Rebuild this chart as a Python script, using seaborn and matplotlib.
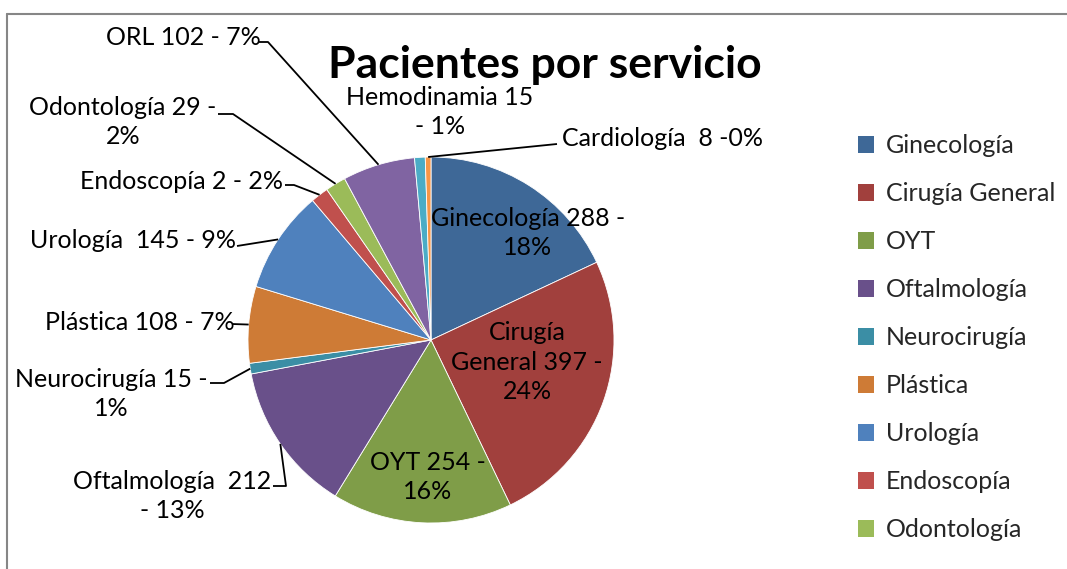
import matplotlib
matplotlib.use("Agg")
import matplotlib.pyplot as plt
import seaborn as sns
from matplotlib.lines import Line2D
from matplotlib.patches import Patch
import numpy as np

# ---------------- data ----------------
categories = ["Ginecología", "Cirugía General", "OYT", "Oftalmología", "Neurocirugía",
              "Plástica", "Urología", "Endoscopía", "Odontología", "ORL",
              "Hemodinamia", "Cardiología"]
values = [288, 397, 254, 212, 15, 108, 145, 25, 29, 102, 15, 8]
label_texts = ["Ginecología 288 -\n18%", "Cirugía\nGeneral 397 -\n24%", "OYT 254 -\n16%",
               "Oftalmología  212\n- 13%", "Neurocirugía 15 -\n1%", "Plástica 108 - 7%",
               "Urología  145 - 9%", "Endoscopía 2 - 2%", "Odontología 29 -\n2%",
               "ORL 102 - 7%", "Hemodinamia 15\n- 1%", "Cardiología  8 -0%"]
legend_count = 9
colors = ["#3E6897", "#A1403D", "#7F9D48", "#69508A", "#3B8EA5", "#CE7B36",
          "#4F81BD", "#C0504D", "#9BBB59", "#8064A2", "#4BACC6", "#F79646"]
title = "Pacientes por servicio"

# ---------------- figure ----------------
sns.set_theme(style="white")
plt.rcParams["font.family"] = ["Lato", "DejaVu Sans"]

W, H = 1067, 569
fig = plt.figure(figsize=(W / 100, H / 100), dpi=100)
ax = fig.add_axes([0, 0, 1, 1])

cx, cy, R = 431, 340, 183  # pixel layout (y measured from top)
wedges, _ = ax.pie(values, colors=colors, startangle=90, counterclock=False,
                   center=(cx, H - cy), radius=R,
                   wedgeprops=dict(edgecolor="white", linewidth=0.6))
ax.set_xlim(0, W)
ax.set_ylim(0, H)
ax.set_aspect("equal")
ax.axis("off")

FS = 18

def edge_point(w):
    ang = np.deg2rad((w.theta1 + w.theta2) / 2)
    return cx + R * np.cos(ang), (H - cy) + R * np.sin(ang)

# layout for labels: (text x, text y, ha, [leader points before wedge edge]) in top-down pixels
layout = {
    0: (528, 233, "center", None),
    1: (527, 362, "center", None),
    2: (428, 477, "center", None),
    3: (172, 496, "center", [(273, 486), (286, 486)]),
    4: (111, 394, "center", [(210, 383), (224, 383)]),
    5: (140, 323, "center", [(232, 324)]),
    6: (133, 240, "center", [(237, 246)]),
    7: (182, 181, "center", [(285, 185), (294, 185)]),
    8: (123, 122, "center", [(218, 114), (233, 114)]),
    9: (183, 37, "center", [(258, 42), (268, 42)]),
    10: (440, 112, "center", None),
    11: (663, 138, "center", [(557, 144)]),
}

for i, w in enumerate(wedges):
    tx, ty, ha, pts = layout[i]
    ax.text(tx, H - ty, label_texts[i], ha=ha, va="center", fontsize=FS,
            color="black", linespacing=1.32)
    if pts:
        ex, ey = edge_point(w)
        xs = [p[0] for p in pts] + [ex]
        ys = [H - p[1] for p in pts] + [ey]
        ax.plot(xs, ys, color="black", lw=1.3, solid_capstyle="butt")

fig.text(545 / W, 1 - 65 / H, title, ha="center", va="center",
         fontsize=32, fontweight="bold", color="black")

handles = [Patch(facecolor=colors[i], edgecolor="none") for i in range(legend_count)]
fig.legend(handles, categories[:legend_count], loc="upper left",
           bbox_to_anchor=(858 / W, 1 - 134 / H), frameon=False, fontsize=FS,
           handlelength=0.65, handleheight=0.65, handletextpad=0.45,
           labelspacing=1.0, borderaxespad=0, borderpad=0)

# chart frame
fig.add_artist(Line2D([7 / W, 7 / W], [0, 1 - 14 / H], color="#868686", lw=1.5,
                      transform=fig.transFigure))
fig.add_artist(Line2D([7 / W, 1], [1 - 14 / H, 1 - 14 / H], color="#868686", lw=1.5,
                      transform=fig.transFigure))

fig.savefig("out.png", dpi=100, facecolor="white")
